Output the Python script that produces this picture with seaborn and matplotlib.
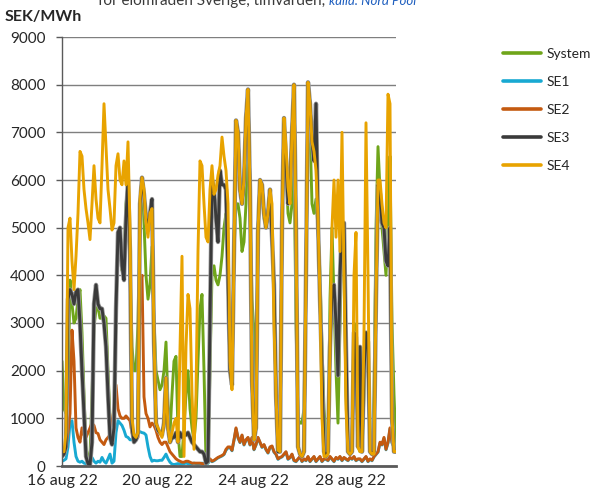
import numpy as np
import pandas as pd
import matplotlib
matplotlib.use("Agg")
import matplotlib.pyplot as plt
import seaborn as sns
from matplotlib import patheffects as pe

# ---- data (2-hour samples starting 16 aug 2022 00:00), SEK/MWh ----
start = "2022-08-16 00:00"

system = [
    2200, 1200, 1100, 1500, 3900, 3400, 3000, 3100, 3500, 3700, 2800, 1500,
    400, 150, 200, 1500, 2900, 3300, 3340, 3100, 3100, 3150, 3100, 2000,
    1000, 600, 700, 3200, 4800, 4900, 4100, 4300, 5500, 5900, 4200, 2500,
    2000, 2000, 3000, 5400, 6050, 5100, 4000, 3500, 3800, 4600, 3100, 2000,
    1800, 1600, 1700, 2000, 2600, 1300, 700, 1500, 2200, 2300, 700, 200,
    200, 800, 1500, 2000, 1200, 800, 540, 1000, 2200, 3300, 3600, 2000,
    100, 60, 2000, 4000, 4200, 3900, 3800, 4000, 4400, 5000, 5300, 4000,
    2000, 1700, 4500, 5500, 5500, 5200, 4500, 4700, 5500, 7000, 5600, 3500,
    2800, 1000, 4900, 6000, 5800, 5200, 5000, 5300, 5500, 4800, 3500, 1800,
    400, 500, 5000, 7300, 6300, 5300, 5100, 5500, 6500, 3000, 1000, 900,
    900, 1200, 4000, 7800, 7000, 5500, 5300, 5600, 5000, 4000, 2500, 1200,
    600, 400, 3500, 5000, 3500, 2000, 900, 3000, 5000, 4500, 1500, 400,
    300, 400, 3000, 2500, 400, 300, 300, 1500, 2700, 2500, 300, 300,
    1500, 5000, 6700, 5800, 5000, 4500, 4000, 5000, 6500, 3000, 1500, 400,
]

se1 = [
    100, 120, 150, 400, 900, 950, 500, 200, 100, 80, 100, 60,
    50, 60, 50, 180, 100, 60, 100, 80, 180, 100, 60, 150,
    250, 60, 100, 700, 950, 900, 850, 750, 620, 600, 550, 550,
    560, 620, 700, 720, 700, 690, 650, 400, 200, 100, 120, 110,
    110, 120, 120, 180, 250, 150, 80, 40, 30, 40, 50, 40,
    40, 50, 60, 50, 40, 50, 60, 50, 40, 50, 60, 50,
    40, 60, 130, 90, 110, 140, 170, 190, 210, 240, 330, 380,
    390, 320, 540, 780, 590, 490, 640, 440, 540, 590, 440, 590,
    340, 440, 590, 490, 390, 440, 340, 270, 390, 410, 290, 240,
    140, 170, 190, 240, 290, 140, 170, 240, 110, 90, 140, 190,
    90, 140, 110, 190, 90, 140, 190, 90, 140, 190, 90, 140,
    140, 110, 190, 140, 90, 170, 140, 190, 110, 170, 140, 110,
    170, 140, 190, 110, 140, 140, 90, 140, 190, 90, 140, 110,
    190, 240, 290, 480, 440, 580, 340, 480, 780, 480, 390, 290,
]

se2 = [
    300, 350, 400, 700, 1100, 2850, 2200, 800, 600, 500, 800, 650,
    600, 700, 800, 900, 850, 700, 680, 550, 500, 450, 550, 600,
    650, 900, 1200, 1700, 1200, 1050, 1000, 1000, 1050, 1000, 950, 700,
    550, 550, 600, 3800, 4000, 1450, 1100, 1000, 820, 900, 850, 750,
    600, 500, 450, 500, 500, 400, 300, 250, 200, 150, 120, 100,
    80, 80, 100, 100, 80, 60, 60, 60, 60, 60, 50, 50,
    60, 80, 150, 100, 120, 150, 180, 200, 220, 250, 350, 400,
    400, 330, 550, 800, 600, 500, 650, 450, 550, 600, 450, 600,
    350, 450, 600, 500, 400, 450, 350, 280, 400, 420, 300, 250,
    150, 180, 200, 250, 300, 150, 180, 250, 120, 100, 150, 200,
    100, 150, 120, 200, 100, 150, 200, 100, 150, 200, 100, 150,
    150, 120, 200, 150, 100, 180, 150, 200, 120, 180, 150, 120,
    180, 150, 200, 120, 150, 150, 100, 150, 200, 100, 150, 120,
    200, 250, 300, 500, 450, 600, 350, 500, 800, 500, 400, 300,
]

se3 = [
    200, 250, 400, 3500, 3700, 3600, 3400, 3650, 3700, 3000, 2000, 1100,
    200, 50, 30, 500, 3400, 3800, 3400, 3300, 3300, 3000, 2500, 1500,
    600, 450, 800, 3300, 4900, 5000, 4200, 3900, 5200, 6000, 4500, 800,
    500, 550, 700, 5500, 6050, 5700, 5200, 4950, 5300, 5600, 2600, 900,
    750, 700, 650, 900, 1850, 800, 500, 600, 600, 700, 500, 700,
    600, 700, 650, 700, 600, 500, 450, 400, 350, 300, 300, 250,
    60, 100, 3000, 6000, 5800, 5200, 4700, 6200, 5900, 5900, 5800, 4000,
    2000, 1700, 4500, 7250, 7000, 5800, 5500, 6000, 7300, 7900, 5800, 1800,
    550, 800, 4900, 6000, 5900, 5300, 5000, 5300, 5800, 4800, 3800, 1500,
    300, 300, 5000, 7300, 6400, 5500, 5800, 7000, 8000, 5000, 400, 250,
    200, 300, 4000, 8050, 7600, 6800, 6400, 7600, 5100, 3500, 2000, 300,
    200, 300, 2500, 3700, 3800, 3000, 1900, 4000, 5100, 5100, 2500, 300,
    250, 300, 2800, 2700, 400, 2500, 300, 2000, 2800, 2600, 300, 250,
    300, 3500, 5900, 5700, 5100, 5000, 4300, 4200, 5000, 1000, 300, 300,
]

se4 = [
    300, 300, 700, 5000, 5200, 4300, 3700, 4400, 5300, 6600, 6500, 5800,
    5400, 5100, 4750, 5500, 6300, 5600, 5200, 5100, 6300, 7600, 6700, 5800,
    5400, 4950, 5100, 6300, 6550, 6000, 5900, 6400, 5900, 6800, 5000, 1000,
    650, 600, 700, 5600, 6050, 5800, 5100, 4800, 5300, 5400, 2700, 900,
    800, 700, 600, 900, 1850, 800, 500, 700, 900, 1000, 500, 2500,
    4400, 200, 2500, 3600, 3300, 1500, 350, 1500, 4500, 6400, 6300, 5500,
    4800, 4700, 5800, 6300, 5700, 5800, 6100, 6300, 6900, 6500, 6200, 5500,
    2200, 1600, 4500, 7250, 7000, 5800, 5500, 6000, 7300, 7900, 5800, 1800,
    550, 800, 4900, 6000, 5900, 5300, 5000, 5300, 5800, 5500, 3000, 1500,
    330, 300, 5000, 7300, 6700, 5850, 5500, 7000, 8000, 5000, 400, 250,
    200, 300, 4000, 8050, 7600, 6800, 6600, 6200, 5200, 3500, 1000, 200,
    200, 250, 2500, 5000, 6000, 4800, 6000, 4500, 7000, 4000, 1200, 300,
    250, 300, 4000, 4900, 400, 300, 300, 2800, 7200, 4000, 300, 250,
    250, 3500, 6000, 6000, 5500, 5100, 5000, 7800, 7600, 1000, 300, 300,
]

series_names = ["System", "SE1", "SE2", "SE3", "SE4"]
colors = ["#6fa51a", "#18a9d2", "#c45a10", "#3a3a3a", "#e8a300"]
tick_dates = ["2022-08-16", "2022-08-20", "2022-08-24", "2022-08-28"]
tick_labels = ["16 aug 22", "20 aug 22", "24 aug 22", "28 aug 22"]
y_ticks = [0, 1000, 2000, 3000, 4000, 5000, 6000, 7000, 8000, 9000]

times = pd.date_range(start, periods=len(system), freq="2h")
df = pd.DataFrame({"Tid": times, "System": system, "SE1": se1, "SE2": se2,
                   "SE3": se3, "SE4": se4})
long = df.melt(id_vars="Tid", var_name="Serie", value_name="SEK/MWh")

sns.set_theme(style="white")
plt.rcParams["font.family"] = ["Lato", "DejaVu Sans"]

W, H = 597, 504
fig = plt.figure(figsize=(W / 100, H / 100), dpi=100)
ax = fig.add_axes([62 / W, 1 - 466 / H, (396 - 62) / W, (466 - 37) / H])

palette = dict(zip(series_names, colors))
sns.lineplot(data=long, x="Tid", y="SEK/MWh", hue="Serie", hue_order=series_names,
             palette=palette, linewidth=2.1, ax=ax, legend=True)

for ln in ax.get_lines():
    if matplotlib.colors.to_hex(ln.get_color()) == colors[3]:
        ln.set_path_effects([pe.Stroke(linewidth=3.2, foreground="#9a9a9a"), pe.Normal()])

ax.set_xlim(times[0], times[-1])
ax.set_ylim(0, 9000)
ax.set_yticks(y_ticks)
ax.set_yticklabels([str(v) for v in y_ticks])
ax.set_xticks(pd.to_datetime(tick_dates))
ax.set_xticklabels(tick_labels)
ax.set_xlabel("")
ax.set_ylabel("")

ax.yaxis.grid(True, color="#7f7f7f", linewidth=1.0)
ax.xaxis.grid(False)
ax.set_axisbelow(True)
for s in ["top", "right"]:
    ax.spines[s].set_visible(False)
ax.spines["left"].set_color("#5a5a5a")
ax.spines["left"].set_linewidth(1.0)
ax.spines["bottom"].set_color("#5a5a5a")
ax.spines["bottom"].set_linewidth(2.0)
ax.tick_params(axis="y", which="both", left=True, length=4, width=1, color="#5a5a5a",
               labelsize=11, labelcolor="#262626", pad=8)
ax.tick_params(axis="x", which="both", bottom=False, length=0, labelsize=11.5,
               labelcolor="#262626", pad=6)

sns.move_legend(ax, "upper left", bbox_to_anchor=(503 / W, 1 - 48 / H),
                bbox_transform=fig.transFigure, frameon=False, title=None,
                fontsize=10, handlelength=2.7, labelspacing=1.15, borderpad=0,
                borderaxespad=0, handletextpad=0.4)
leg = ax.get_legend()
for lh in leg.get_lines():
    lh.set_linewidth(2.6)
for t in leg.get_texts():
    t.set_color("#262626")

fig.text(5 / W, 1 - 17 / H, "SEK/MWh", fontsize=11.5, fontweight="bold",
         color="#262626", va="center", ha="left")

t1 = fig.text(98 / W, 1 - 5 / H, "för elområden Sverige, timvärden, ", fontsize=11,
              color="#3a3a3a", va="baseline", ha="left")
fig.canvas.draw()
bb = t1.get_window_extent()
fig.text(bb.x1 / (W), 1 - 5 / H, "källa: Nord Pool", fontsize=9.5, style="italic",
         color="#1f5fbf", va="baseline", ha="left")

fig.savefig("out.png", dpi=100)
